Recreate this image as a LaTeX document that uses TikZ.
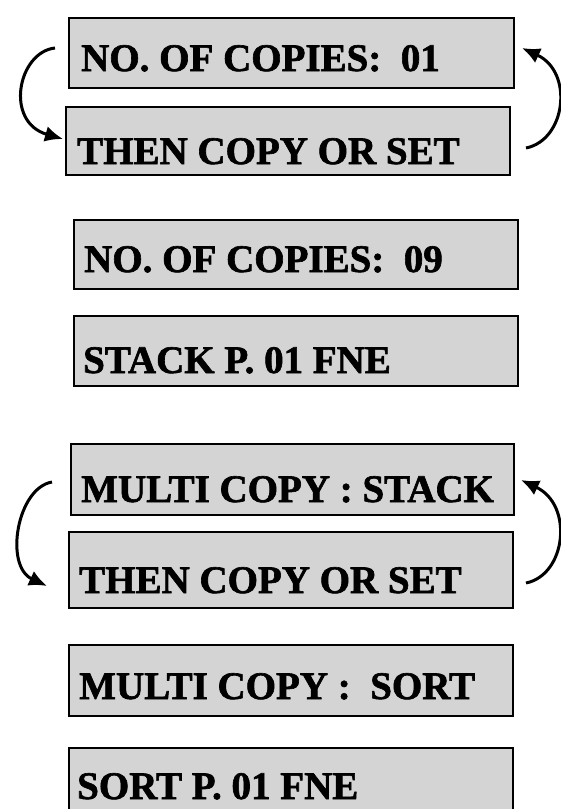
\documentclass[tikz,border=0pt]{standalone}
\usepackage{fontspec}
\setmainfont{Liberation Serif}[BoldFeatures={FakeBold=1.6}]
\usetikzlibrary{arrows.meta}
\begin{document}
\begin{tikzpicture}[x=1pt,y=-1pt,
  panel/.style={draw=black,line width=2.4pt,fill=black!17,rectangle,inner sep=0pt,anchor=north west},
  label/.style={anchor=base west,inner sep=0pt,font=\bfseries\fontsize{39}{39}\selectfont},
  loop/.style={line width=3pt,-{Latex[length=18pt,width=16pt]}}]
\useasboundingbox (0,0) rectangle (561,809);
\clip (0,0) rectangle (561,809);
% boxes
\node[panel,minimum width=445pt,minimum height=70pt] (b1) at (68,17) {};
\node[panel,minimum width=444pt,minimum height=68pt] (b2) at (65,106) {};
\node[panel,minimum width=444pt,minimum height=69pt] (b3) at (73,219) {};
\node[panel,minimum width=444pt,minimum height=70pt] (b4) at (73,315) {};
\node[panel,minimum width=443pt,minimum height=71pt] (b5) at (70,443) {};
\node[panel,minimum width=444pt,minimum height=76pt] (b6) at (68,531) {};
\node[panel,minimum width=444pt,minimum height=71pt] (b7) at (68,644) {};
\node[panel,minimum width=444pt,minimum height=80pt] (b8) at (68,747) {};
% texts
\node[label] (t1) at (81,71) {NO. OF COPIES:\ \ 01};
\node[label] (t2) at (77,164) {THEN COPY OR SET};
\node[label] (t3) at (84,272) {NO. OF COPIES:\ \ 09};
\node[label] (t4) at (83,373) {STACK P. 01 FNE};
\node[label] (t5) at (81,502) {MULTI COPY : STACK};
\node[label] (t6) at (79,593) {THEN COPY OR SET};
\node[label] (t7) at (79,699) {MULTI COPY :\ \ SORT};
\node[label] (t8) at (77,799) {SORT P. 01 FNE};
% loop ends
\coordinate (l1s) at (55,48);
\coordinate (l1e) at (63,139);
\coordinate (r1s) at (526,148);
\coordinate (r1e) at (522,48);
\coordinate (l2s) at (52,482);
\coordinate (l2e) at (47,586);
\coordinate (r2s) at (526,583);
\coordinate (r2e) at (521,480);
% arrows
\draw[loop] (l1s) .. controls (18,52) and (4,122) .. (l1e);
\draw[loop] (r1s) .. controls (566,140) and (574,72) .. (r1e);
\draw[loop] (l2s) .. controls (17,488) and (4,566) .. (l2e);
\draw[loop] (r2s) .. controls (566,575) and (574,505) .. (r2e);
\end{tikzpicture}
\end{document}
